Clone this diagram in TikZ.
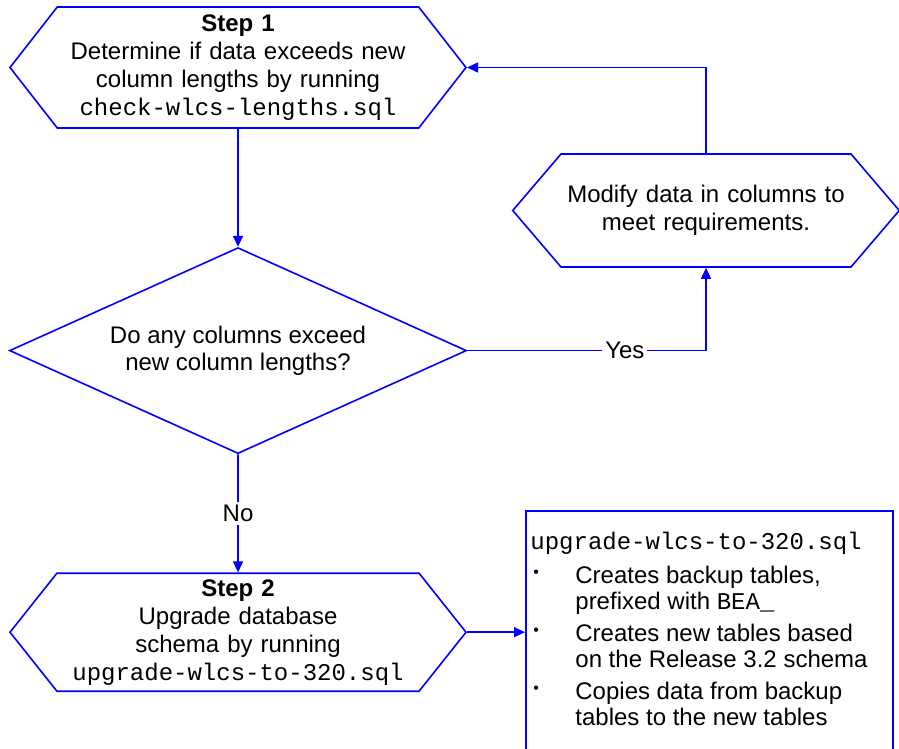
\documentclass[tikz,border=0pt]{standalone}
\usepackage{fontspec}
\setmainfont{Liberation Sans}
\setmonofont{Liberation Mono}
\usetikzlibrary{arrows.meta,positioning,shapes.symbols,shapes.geometric}
\tikzset{
  hexbox/.style  ={shape=signal, signal to=west and east, draw=blue, line width=0.8pt,
                   align=center, inner sep=0pt, font=\fontsize{12}{14}\selectfont},
  decide/.style  ={diamond, shape aspect=2.2, draw=blue, line width=0.8pt, align=center,
                   inner sep=0pt, minimum width=228.5pt, minimum height=103pt,
                   font=\fontsize{12}{13.5}\selectfont},
  notebox/.style ={draw=blue, line width=0.8pt, minimum width=183.5pt, minimum height=130pt,
                   inner sep=0pt},
  notetxt/.style ={align=left, inner sep=0pt, font=\fontsize{12}{13}\selectfont},
  lbl/.style     ={fill=white, inner sep=1.5pt, font=\fontsize{12}{14}\selectfont},
  ar/.style      ={-{Triangle[length=5.5pt,width=5pt]}, draw=blue, line width=0.8pt},
}
\newcommand{\fname}[1]{{\ttfamily #1}}
\newcommand{\blt}{\hspace*{1.5pt}\makebox[21pt][l]{\raisebox{3pt}{\fontsize{8}{8}\selectfont\textbullet}}}

\begin{document}
\begin{tikzpicture}[x=0.5pt, y=-0.5pt]
\clip (0,0) rectangle (899,749);
% steps and the check
\node[hexbox, minimum width=228pt, minimum height=60.5pt, text width=170pt,
      signal pointer angle=104] (s1) at (238,67.5)
  {\textbf{Step 1}\\Determine if data exceeds new\\column lengths by running\\\fname{check-wlcs-lengths.sql}};
\node[decide, below=59pt of s1] (chk) {Do any columns exceed\\new column lengths?};
\node[hexbox, minimum width=228pt, minimum height=59pt, text width=170pt,
      signal pointer angle=103, below=59pt of chk] (s2)
  {\textbf{Step 2}\\Upgrade database\\schema by running\\\fname{upgrade-wlcs-to-320.sql}};
\node[hexbox, minimum width=192pt, minimum height=56.5pt, text width=145pt,
      signal pointer angle=99] (mod) at (706,210.5)
  {Modify data in columns to\\meet requirements.};
% what the upgrade script does
\node[notebox, anchor=north west] (note) at (525,510) {};
\node[notetxt, below right=11pt and 2.5pt of note.north west] (notes)
  {\fname{upgrade-wlcs-to-320.sql}\\[4pt]
   \blt Creates backup tables,\\
   \hspace*{22.5pt}prefixed with \fname{BEA\_}\\[3pt]
   \blt Creates new tables based\\
   \hspace*{22.5pt}on the Release 3.2 schema\\[3pt]
   \blt Copies data from backup\\
   \hspace*{22.5pt}tables to the new tables};
% connectors
\draw[ar] (s1) -- (chk);
\draw[ar] (chk.east) -- node[lbl, pos=0.66] {Yes} (chk.east -| mod.south) -- (mod.south);
\draw[ar] (mod.north) |- (s1.east);
\draw[ar] (chk) -- node[lbl] {No} (s2);
\draw[ar] (s2.east) -- (s2.east -| note.west);
\end{tikzpicture}
\end{document}
